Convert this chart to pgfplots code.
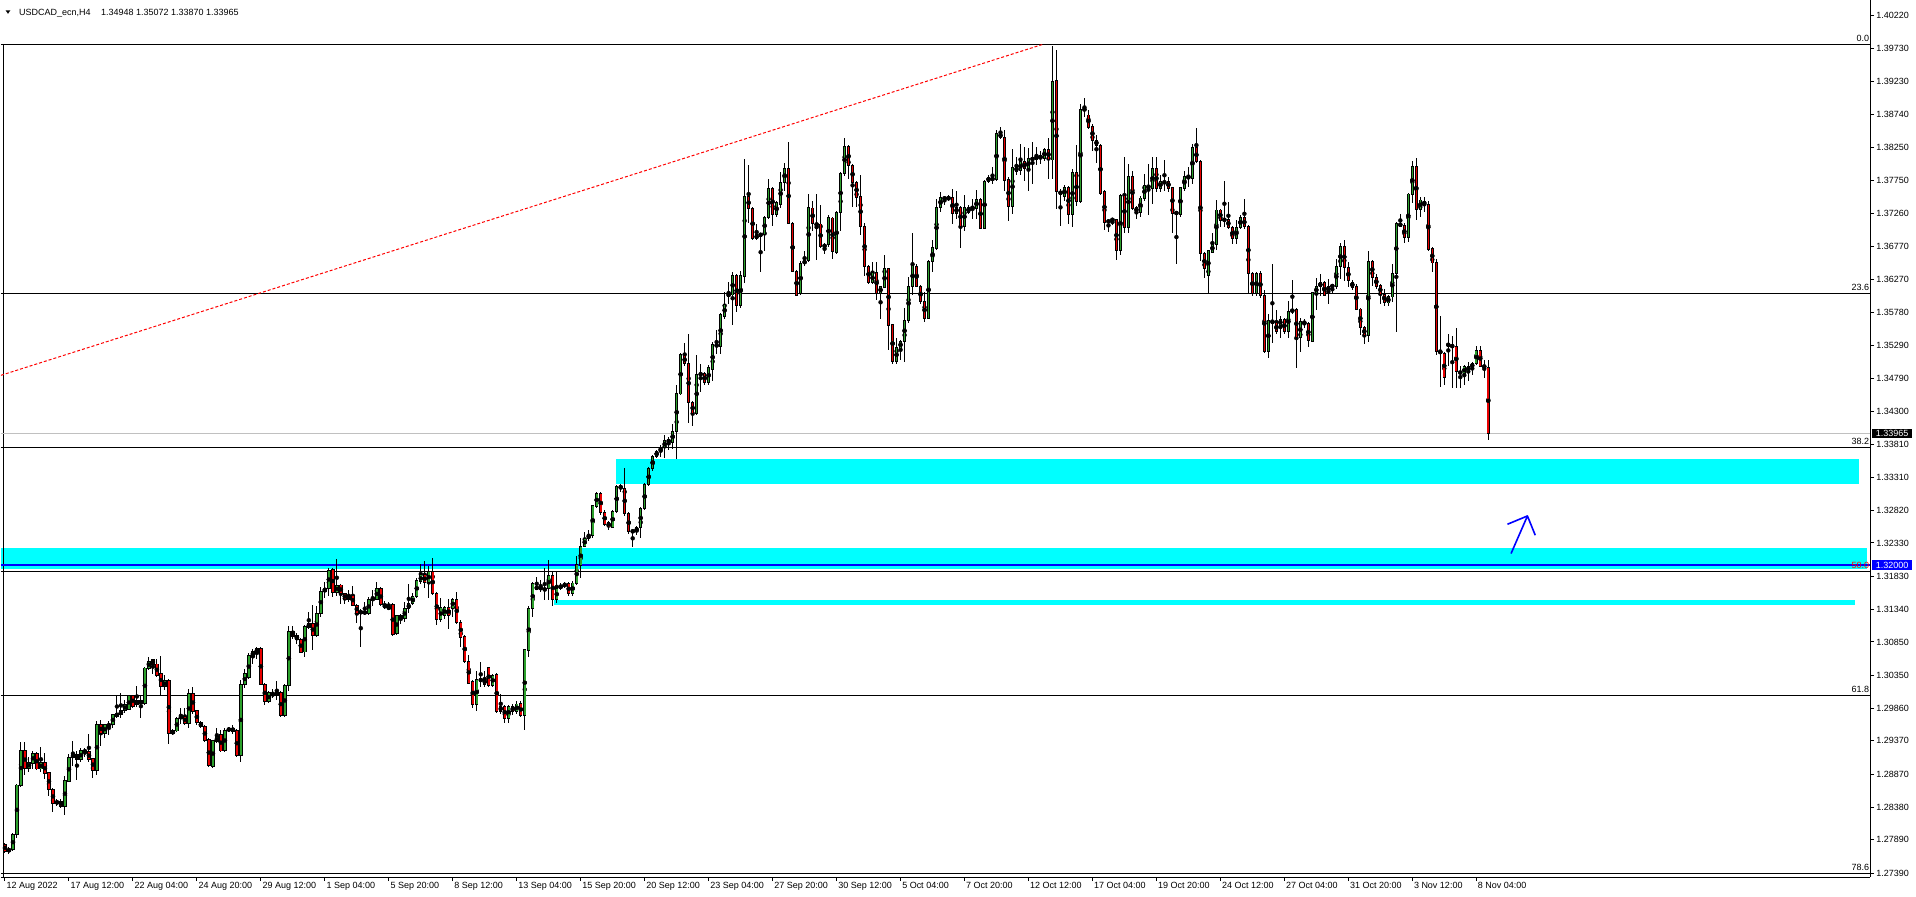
\documentclass[border=0pt]{standalone}
\usepackage{pgfplots}
\pgfplotsset{compat=1.18}
\usepackage{pgfplotstable}
\usepackage{fontspec}
\setmainfont{Liberation Sans}

\definecolor{bull}{HTML}{2CA02C}
\definecolor{bear}{HTML}{E80000}
\definecolor{zone}{HTML}{00FFFF}
\definecolor{mtblue}{HTML}{0000FF}
\definecolor{bidline}{HTML}{C0C0C0}
\definecolor{trend}{HTML}{FF0000}
\newcommand{\mt}{\fontsize{9bp}{10bp}\selectfont}

% USDCAD_ecn H4, bar 0 = 12 Aug 2022 20:00
\pgfplotstableread{
i o h l c
0 1.2782 1.2784 1.2769 1.2772
1 1.2772 1.2779 1.2768 1.2775
2 1.2774 1.2799 1.2772 1.2797
3 1.2797 1.2873 1.2792 1.2871
4 1.2871 1.2935 1.2868 1.2922
5 1.2922 1.2935 1.2886 1.2896
6 1.2896 1.2913 1.2890 1.2905
7 1.2904 1.2922 1.2895 1.2918
8 1.2918 1.2921 1.2893 1.2895
9 1.2895 1.2928 1.2891 1.2904
10 1.2904 1.2919 1.2880 1.2888
11 1.2889 1.2891 1.2854 1.2864
12 1.2864 1.2866 1.2831 1.2844
13 1.2843 1.2850 1.2840 1.2847
14 1.2847 1.2850 1.2836 1.2839
15 1.2839 1.2885 1.2826 1.2877
16 1.2877 1.2918 1.2875 1.2912
17 1.2912 1.2937 1.2899 1.2917
18 1.2917 1.2922 1.2878 1.2909
19 1.2909 1.2926 1.2906 1.2922
20 1.2923 1.2926 1.2913 1.2920
21 1.2921 1.2947 1.2906 1.2909
22 1.2910 1.2912 1.2881 1.2893
23 1.2893 1.2967 1.2886 1.2962
24 1.2962 1.2968 1.2929 1.2948
25 1.2948 1.2963 1.2942 1.2961
26 1.2959 1.2967 1.2946 1.2962
27 1.2961 1.2978 1.2957 1.2976
28 1.2974 1.3006 1.2971 1.2978
29 1.2977 1.3009 1.2971 1.2982
30 1.2982 1.2998 1.2978 1.2992
31 1.2984 1.3006 1.2983 1.3005
32 1.3005 1.3006 1.2986 1.2989
33 1.2991 1.3019 1.2988 1.2997
34 1.2997 1.3006 1.2972 1.2993
35 1.2993 1.3048 1.2991 1.3046
36 1.3046 1.3062 1.3043 1.3056
37 1.3058 1.3059 1.3037 1.3052
38 1.3052 1.3059 1.3033 1.3035
39 1.3037 1.3064 1.3006 1.3019
40 1.3018 1.3036 1.3013 1.3027
41 1.3027 1.3029 1.2933 1.2948
42 1.2948 1.2954 1.2946 1.2952
43 1.2952 1.2973 1.2950 1.2971
44 1.2971 1.2986 1.2963 1.2974
45 1.2974 1.2986 1.2961 1.2963
46 1.2963 1.3014 1.2957 1.3008
47 1.3008 1.3018 1.2978 1.2981
48 1.2982 1.2984 1.2961 1.2964
49 1.2964 1.2966 1.2956 1.2958
50 1.2958 1.2960 1.2936 1.2938
51 1.2939 1.2941 1.2898 1.2900
52 1.2899 1.2939 1.2896 1.2937
53 1.2936 1.2957 1.2934 1.2943
54 1.2947 1.2953 1.2920 1.2922
55 1.2922 1.2956 1.2920 1.2953
56 1.2952 1.2958 1.2950 1.2956
57 1.2956 1.2960 1.2948 1.2951
58 1.2952 1.2954 1.2913 1.2915
59 1.2915 1.3028 1.2905 1.3022
60 1.3022 1.3044 1.3016 1.3037
61 1.3032 1.3069 1.3030 1.3064
62 1.3063 1.3075 1.3052 1.3071
63 1.3070 1.3078 1.3059 1.3075
64 1.3075 1.3077 1.3020 1.3022
65 1.3022 1.3024 1.2991 1.2996
66 1.2996 1.3011 1.2993 1.3009
67 1.3008 1.3014 1.3001 1.3005
68 1.3007 1.3026 1.2998 1.3009
69 1.3009 1.3011 1.2972 1.2975
70 1.2975 1.3022 1.2972 1.3020
71 1.3020 1.3109 1.3011 1.3101
72 1.3101 1.3109 1.3089 1.3093
73 1.3094 1.3099 1.3082 1.3089
74 1.3089 1.3091 1.3068 1.3070
75 1.3070 1.3110 1.3063 1.3108
76 1.3107 1.3130 1.3105 1.3113
77 1.3113 1.3140 1.3073 1.3094
78 1.3094 1.3139 1.3092 1.3128
79 1.3128 1.3167 1.3123 1.3161
80 1.3161 1.3174 1.3150 1.3165
81 1.3165 1.3195 1.3153 1.3192
82 1.3193 1.3195 1.3152 1.3159
83 1.3159 1.3209 1.3153 1.3170
84 1.3170 1.3172 1.3142 1.3157
85 1.3157 1.3158 1.3142 1.3149
86 1.3149 1.3163 1.3145 1.3155
87 1.3155 1.3169 1.3139 1.3140
88 1.3140 1.3142 1.3113 1.3128
89 1.3128 1.3134 1.3077 1.3131
90 1.3131 1.3145 1.3125 1.3127
91 1.3127 1.3152 1.3125 1.3149
92 1.3148 1.3162 1.3139 1.3150
93 1.3149 1.3175 1.3148 1.3165
94 1.3165 1.3167 1.3139 1.3141
95 1.3141 1.3146 1.3134 1.3136
96 1.3137 1.3145 1.3134 1.3135
97 1.3141 1.3143 1.3094 1.3096
98 1.3098 1.3126 1.3096 1.3124
99 1.3120 1.3127 1.3112 1.3124
100 1.3120 1.3145 1.3115 1.3135
101 1.3135 1.3171 1.3128 1.3142
102 1.3142 1.3158 1.3140 1.3153
103 1.3153 1.3180 1.3150 1.3177
104 1.3175 1.3201 1.3172 1.3185
105 1.3185 1.3206 1.3165 1.3174
106 1.3174 1.3198 1.3150 1.3190
107 1.3191 1.3210 1.3155 1.3158
108 1.3158 1.3160 1.3110 1.3118
109 1.3119 1.3150 1.3115 1.3136
110 1.3125 1.3139 1.3119 1.3136
111 1.3136 1.3150 1.3105 1.3125
112 1.3135 1.3151 1.3123 1.3149
113 1.3149 1.3160 1.3112 1.3114
114 1.3114 1.3118 1.3077 1.3092
115 1.3093 1.3095 1.3053 1.3056
116 1.3056 1.3065 1.3022 1.3023
117 1.3026 1.3028 1.2986 1.2992
118 1.2992 1.3041 1.2982 1.3028
119 1.3027 1.3055 1.3018 1.3029
120 1.3029 1.3041 1.3018 1.3022
121 1.3046 1.3048 1.3018 1.3020
122 1.3020 1.3037 1.3018 1.3035
123 1.3036 1.3038 1.2978 1.2981
124 1.2989 1.3007 1.2978 1.2981
125 1.2989 1.2990 1.2964 1.2971
126 1.2971 1.2991 1.2964 1.2989
127 1.2989 1.2992 1.2976 1.2981
128 1.2981 1.2996 1.2978 1.2992
129 1.2993 1.2996 1.2973 1.2975
130 1.2975 1.3075 1.2953 1.3073
131 1.3072 1.3139 1.3062 1.3135
132 1.3135 1.3175 1.3123 1.3172
133 1.3164 1.3182 1.3162 1.3168
134 1.3164 1.3177 1.3160 1.3167
135 1.3165 1.3195 1.3148 1.3162
136 1.3165 1.3207 1.3148 1.3184
137 1.3184 1.3191 1.3139 1.3148
138 1.3148 1.3191 1.3144 1.3165
139 1.3165 1.3173 1.3163 1.3170
140 1.3168 1.3175 1.3166 1.3172
141 1.3172 1.3175 1.3154 1.3157
142 1.3157 1.3176 1.3154 1.3173
143 1.3173 1.3213 1.3170 1.3200
144 1.3200 1.3240 1.3181 1.3228
145 1.3228 1.3250 1.3227 1.3240
146 1.3240 1.3252 1.3236 1.3245
147 1.3245 1.3290 1.3240 1.3289
148 1.3288 1.3309 1.3285 1.3307
149 1.3307 1.3309 1.3275 1.3279
150 1.3279 1.3282 1.3258 1.3261
151 1.3264 1.3266 1.3252 1.3257
152 1.3257 1.3282 1.3255 1.3280
153 1.3280 1.3320 1.3278 1.3318
154 1.3315 1.3322 1.3310 1.3318
155 1.3315 1.3345 1.3274 1.3277
156 1.3277 1.3279 1.3247 1.3250
157 1.3250 1.3253 1.3227 1.3251
158 1.3250 1.3258 1.3245 1.3256
159 1.3256 1.3287 1.3241 1.3285
160 1.3285 1.3322 1.3283 1.3320
161 1.3320 1.3346 1.3318 1.3344
162 1.3344 1.3365 1.3340 1.3363
163 1.3363 1.3372 1.3360 1.3370
164 1.3370 1.3380 1.3362 1.3376
165 1.3376 1.3395 1.3360 1.3386
166 1.3384 1.3392 1.3372 1.3387
167 1.3384 1.3411 1.3373 1.3400
168 1.3400 1.3469 1.3359 1.3457
169 1.3456 1.3517 1.3454 1.3515
170 1.3513 1.3532 1.3498 1.3501
171 1.3501 1.3545 1.3413 1.3443
172 1.3443 1.3445 1.3408 1.3427
173 1.3427 1.3514 1.3425 1.3485
174 1.3484 1.3500 1.3459 1.3487
175 1.3487 1.3489 1.3469 1.3473
176 1.3473 1.3499 1.3469 1.3495
177 1.3492 1.3533 1.3476 1.3530
178 1.3530 1.3552 1.3515 1.3527
179 1.3527 1.3577 1.3515 1.3575
180 1.3572 1.3608 1.3568 1.3590
181 1.3603 1.3624 1.3590 1.3605
182 1.3604 1.3639 1.3559 1.3633
183 1.3633 1.3635 1.3579 1.3588
184 1.3588 1.3640 1.3584 1.3633
185 1.3632 1.3808 1.3622 1.3751
186 1.3751 1.3798 1.3712 1.3733
187 1.3733 1.3735 1.3686 1.3688
188 1.3688 1.3710 1.3686 1.3694
189 1.3692 1.3697 1.3639 1.3696
190 1.3695 1.3722 1.3670 1.3720
191 1.3720 1.3777 1.3718 1.3763
192 1.3763 1.3765 1.3707 1.3724
193 1.3724 1.3745 1.3720 1.3742
194 1.3739 1.3788 1.3734 1.3772
195 1.3772 1.3802 1.3760 1.3793
196 1.3793 1.3833 1.3710 1.3711
197 1.3711 1.3713 1.3638 1.3639
198 1.3639 1.3641 1.3603 1.3604
199 1.3607 1.3655 1.3604 1.3651
200 1.3651 1.3670 1.3648 1.3655
201 1.3655 1.3755 1.3654 1.3734
202 1.3734 1.3745 1.3700 1.3711
203 1.3711 1.3755 1.3656 1.3708
204 1.3710 1.3738 1.3675 1.3676
205 1.3676 1.3681 1.3665 1.3679
206 1.3679 1.3724 1.3675 1.3720
207 1.3719 1.3721 1.3658 1.3669
208 1.3667 1.3729 1.3665 1.3727
209 1.3727 1.3788 1.3700 1.3786
210 1.3786 1.3838 1.3782 1.3826
211 1.3826 1.3828 1.3777 1.3797
212 1.3797 1.3800 1.3736 1.3772
213 1.3772 1.3774 1.3735 1.3750
214 1.3751 1.3783 1.3694 1.3706
215 1.3706 1.3712 1.3632 1.3647
216 1.3647 1.3649 1.3621 1.3623
217 1.3622 1.3654 1.3621 1.3637
218 1.3637 1.3654 1.3596 1.3607
219 1.3607 1.3618 1.3568 1.3616
220 1.3615 1.3664 1.3614 1.3643
221 1.3643 1.3645 1.3521 1.3559
222 1.3559 1.3561 1.3501 1.3504
223 1.3504 1.3539 1.3501 1.3525
224 1.3524 1.3537 1.3507 1.3535
225 1.3535 1.3584 1.3504 1.3566
226 1.3566 1.3631 1.3562 1.3617
227 1.3617 1.3696 1.3604 1.3648
228 1.3646 1.3651 1.3616 1.3617
229 1.3617 1.3619 1.3590 1.3594
230 1.3594 1.3608 1.3563 1.3569
231 1.3569 1.3656 1.3568 1.3654
232 1.3654 1.3686 1.3639 1.3675
233 1.3674 1.3747 1.3672 1.3735
234 1.3735 1.3758 1.3728 1.3750
235 1.3748 1.3752 1.3739 1.3749
236 1.3747 1.3753 1.3745 1.3750
237 1.3750 1.3763 1.3710 1.3726
238 1.3726 1.3760 1.3718 1.3735
239 1.3735 1.3737 1.3675 1.3707
240 1.3707 1.3754 1.3699 1.3735
241 1.3727 1.3738 1.3725 1.3735
242 1.3734 1.3747 1.3718 1.3735
243 1.3734 1.3761 1.3718 1.3747
244 1.3747 1.3749 1.3702 1.3704
245 1.3704 1.3776 1.3702 1.3774
246 1.3774 1.3783 1.3771 1.3780
247 1.3777 1.3795 1.3770 1.3778
248 1.3777 1.3851 1.3774 1.3846
249 1.3846 1.3856 1.3838 1.3839
250 1.3839 1.3851 1.3759 1.3776
251 1.3776 1.3780 1.3715 1.3737
252 1.3737 1.3823 1.3725 1.3795
253 1.3789 1.3811 1.3783 1.3795
254 1.3790 1.3830 1.3783 1.3803
255 1.3803 1.3825 1.3775 1.3793
256 1.3793 1.3824 1.3759 1.3808
257 1.3808 1.3833 1.3770 1.3807
258 1.3806 1.3826 1.3798 1.3813
259 1.3813 1.3819 1.3800 1.3808
260 1.3808 1.3824 1.3805 1.3822
261 1.3822 1.3838 1.3778 1.3806
262 1.3806 1.3977 1.3778 1.3923
263 1.3925 1.3971 1.3733 1.3759
264 1.3759 1.3763 1.3707 1.3755
265 1.3752 1.3769 1.3745 1.3765
266 1.3765 1.3767 1.3710 1.3725
267 1.3725 1.3793 1.3705 1.3787
268 1.3787 1.3828 1.3737 1.3744
269 1.3744 1.3890 1.3742 1.3882
270 1.3882 1.3899 1.3870 1.3881
271 1.3873 1.3880 1.3853 1.3855
272 1.3856 1.3860 1.3820 1.3835
273 1.3835 1.3843 1.3801 1.3828
274 1.3828 1.3830 1.3754 1.3756
275 1.3759 1.3761 1.3701 1.3712
276 1.3716 1.3718 1.3698 1.3712
277 1.3716 1.3718 1.3708 1.3717
278 1.3717 1.3718 1.3657 1.3670
279 1.3670 1.3755 1.3663 1.3753
280 1.3753 1.3811 1.3696 1.3705
281 1.3705 1.3800 1.3696 1.3781
282 1.3781 1.3790 1.3731 1.3733
283 1.3735 1.3737 1.3718 1.3728
284 1.3728 1.3752 1.3721 1.3749
285 1.3749 1.3785 1.3744 1.3768
286 1.3768 1.3800 1.3723 1.3764
287 1.3764 1.3810 1.3740 1.3793
288 1.3793 1.3810 1.3758 1.3764
289 1.3763 1.3783 1.3758 1.3774
290 1.3774 1.3806 1.3760 1.3771
291 1.3774 1.3780 1.3758 1.3764
292 1.3764 1.3766 1.3696 1.3726
293 1.3728 1.3730 1.3651 1.3725
294 1.3725 1.3766 1.3721 1.3764
295 1.3764 1.3790 1.3759 1.3781
296 1.3779 1.3796 1.3766 1.3781
297 1.3779 1.3830 1.3770 1.3824
298 1.3824 1.3854 1.3802 1.3803
299 1.3803 1.3806 1.3655 1.3666
300 1.3666 1.3668 1.3630 1.3643
301 1.3633 1.3672 1.3606 1.3670
302 1.3668 1.3697 1.3666 1.3680
303 1.3680 1.3746 1.3671 1.3731
304 1.3731 1.3733 1.3706 1.3716
305 1.3716 1.3775 1.3706 1.3717
306 1.3717 1.3743 1.3702 1.3705
307 1.3705 1.3707 1.3680 1.3688
308 1.3688 1.3716 1.3681 1.3705
309 1.3705 1.3723 1.3702 1.3720
310 1.3720 1.3748 1.3703 1.3706
311 1.3706 1.3708 1.3605 1.3636
312 1.3636 1.3638 1.3603 1.3606
313 1.3606 1.3638 1.3603 1.3636
314 1.3636 1.3640 1.3600 1.3603
315 1.3603 1.3612 1.3517 1.3520
316 1.3520 1.3576 1.3509 1.3566
317 1.3566 1.3651 1.3532 1.3562
318 1.3562 1.3581 1.3546 1.3549
319 1.3559 1.3573 1.3539 1.3567
320 1.3567 1.3570 1.3546 1.3549
321 1.3549 1.3595 1.3539 1.3579
322 1.3579 1.3627 1.3576 1.3582
323 1.3582 1.3584 1.3495 1.3540
324 1.3540 1.3570 1.3519 1.3564
325 1.3561 1.3568 1.3555 1.3564
326 1.3561 1.3563 1.3526 1.3536
327 1.3535 1.3609 1.3534 1.3607
328 1.3606 1.3630 1.3582 1.3617
329 1.3617 1.3636 1.3603 1.3622
330 1.3622 1.3625 1.3602 1.3603
331 1.3610 1.3628 1.3590 1.3617
332 1.3617 1.3619 1.3606 1.3618
333 1.3617 1.3658 1.3613 1.3646
334 1.3646 1.3681 1.3628 1.3677
335 1.3677 1.3686 1.3625 1.3645
336 1.3645 1.3653 1.3616 1.3625
337 1.3623 1.3627 1.3611 1.3616
338 1.3616 1.3621 1.3581 1.3583
339 1.3583 1.3585 1.3544 1.3555
340 1.3555 1.3557 1.3530 1.3544
341 1.3544 1.3670 1.3534 1.3654
342 1.3654 1.3656 1.3617 1.3630
343 1.3630 1.3636 1.3613 1.3617
344 1.3618 1.3620 1.3591 1.3605
345 1.3605 1.3613 1.3587 1.3593
346 1.3592 1.3604 1.3588 1.3602
347 1.3601 1.3651 1.3593 1.3636
348 1.3636 1.3713 1.3549 1.3711
349 1.3711 1.3725 1.3706 1.3707
350 1.3708 1.3711 1.3682 1.3690
351 1.3690 1.3757 1.3683 1.3755
352 1.3755 1.3805 1.3741 1.3796
353 1.3796 1.3809 1.3716 1.3732
354 1.3732 1.3750 1.3721 1.3746
355 1.3744 1.3751 1.3728 1.3739
356 1.3739 1.3745 1.3670 1.3672
357 1.3673 1.3676 1.3638 1.3652
358 1.3653 1.3658 1.3514 1.3520
359 1.3521 1.3572 1.3467 1.3516
360 1.3516 1.3518 1.3470 1.3480
361 1.3532 1.3545 1.3497 1.3527
362 1.3529 1.3542 1.3465 1.3526
363 1.3527 1.3554 1.3465 1.3489
364 1.3490 1.3497 1.3465 1.3486
365 1.3486 1.3499 1.3469 1.3497
366 1.3490 1.3504 1.3475 1.3497
367 1.3495 1.3504 1.3484 1.3502
368 1.3501 1.3527 1.3499 1.3521
369 1.3521 1.3527 1.3496 1.3497
370 1.3499 1.3507 1.3480 1.3495
371 1.34948 1.35072 1.33870 1.33965
}\candles

\begin{document}
\begin{tikzpicture}[x=1bp,y=1bp]
\begin{axis}[
  scale only axis, width=1870bp, height=877bp,
  xmin=-1, xmax=466.5, ymin=1.27333, ymax=1.40444,
  axis x line*=bottom, axis y line*=right,
  axis line style={black, line width=1bp},
  tick align=outside, major tick length=4bp,
  tick style={black, line width=1bp},
  clip mode=individual,
  xtick={0,16,...,368},
  xticklabels={12 Aug 2022,17 Aug 12:00,22 Aug 04:00,24 Aug 20:00,29 Aug 12:00,1 Sep 04:00,5 Sep 20:00,8 Sep 12:00,13 Sep 04:00,15 Sep 20:00,20 Sep 12:00,23 Sep 04:00,27 Sep 20:00,30 Sep 12:00,5 Oct 04:00,7 Oct 20:00,12 Oct 12:00,17 Oct 04:00,19 Oct 20:00,24 Oct 12:00,27 Oct 04:00,31 Oct 20:00,3 Nov 12:00,8 Nov 04:00},
  xticklabel style={font=\mt, anchor=north west, inner sep=0pt, xshift=1.5bp, yshift=-1bp},
  ytick={1.40220,1.39730,1.39230,1.38740,1.38250,1.37750,1.37260,1.36770,1.36270,1.35780,1.35290,1.34790,1.34300,1.33810,1.33310,1.32820,1.32330,1.31830,1.31340,1.30850,1.30350,1.29860,1.29370,1.28870,1.28380,1.27890,1.27390},
  yticklabels={1.40220,1.39730,1.39230,1.38740,1.38250,1.37750,1.37260,1.36770,1.36270,1.35780,1.35290,1.34790,1.34300,1.33810,1.33310,1.32820,1.32330,1.31830,1.31340,1.30850,1.30350,1.29860,1.29370,1.28870,1.28380,1.27890,1.27390},
  yticklabel style={font=\mt, anchor=west, inner sep=0pt, xshift=2bp},
]
\coordinate (bl) at (rel axis cs:0,0);
% zones
\fill[zone] (axis cs:-1,1.32252) rectangle (axis cs:465.75,1.31937);
\fill[zone] (axis cs:152.75,1.33582) rectangle (axis cs:463.75,1.33208);
\fill[zone] (axis cs:137.25,1.31474) rectangle (axis cs:462.75,1.31399);
% fibo levels
\draw[black, line width=1bp] (axis cs:-1,1.39786) -- (axis cs:466.5,1.39786);
\draw[black, line width=1bp] (axis cs:-1,1.36064) -- (axis cs:466.5,1.36064);
\draw[black, line width=1bp] (axis cs:-1,1.33762) -- (axis cs:466.5,1.33762);
\draw[black, line width=1bp] (axis cs:-1,1.31908) -- (axis cs:466.5,1.31908);
\draw[black, line width=1bp] (axis cs:-1,1.30054) -- (axis cs:466.5,1.30054);
\draw[black, line width=1bp] (axis cs:-1,1.27393) -- (axis cs:466.5,1.27393);
\draw[black, line width=1bp] (axis cs:-0.375,1.39786) -- (axis cs:-0.375,1.27333);
% bid line and 1.32 level
\draw[bidline, line width=1bp] (axis cs:-1,1.33965) -- (axis cs:466.5,1.33965);
\draw[mtblue, line width=2bp] (axis cs:-1,1.32) -- (axis cs:466.5,1.32);
% trend line
\addplot[trend, line width=1bp, dash pattern=on 3bp off 2bp, forget plot] coordinates {(-1,1.34838) (259.5,1.39786)};

% wicks
\addplot[only marks, mark=none, forget plot,
  error bars/.cd, y dir=both, y explicit, error mark=none,
  error bar style={draw=black, line width=1bp, solid}]
  table[x=i, y expr={(\thisrow{h}+\thisrow{l})/2}, y error expr={(\thisrow{h}-\thisrow{l})/2}] {\candles};
% body outlines
\addplot[only marks, mark=none, forget plot,
  error bars/.cd, y dir=both, y explicit, error mark=none,
  error bar style={draw=black, line width=3.4bp, solid}]
  table[x=i, y expr={(\thisrow{o}+\thisrow{c})/2}, y error expr={abs(\thisrow{c}-\thisrow{o})/2+0.00008}] {\candles};
% bull fill
\addplot[only marks, mark=none, forget plot,
  restrict expr to domain={\thisrow{c}-\thisrow{o}}{0.00001:1},
  error bars/.cd, y dir=both, y explicit, error mark=none,
  error bar style={draw=bull, line width=1.6bp, solid}]
  table[x=i, y expr={(\thisrow{o}+\thisrow{c})/2}, y error expr={max(abs(\thisrow{c}-\thisrow{o})/2-0.00006,0)}] {\candles};
% bear fill
\addplot[only marks, mark=none, forget plot,
  restrict expr to domain={\thisrow{c}-\thisrow{o}}{-1:-0.00001},
  error bars/.cd, y dir=both, y explicit, error mark=none,
  error bar style={draw=bear, line width=1.6bp, solid}]
  table[x=i, y expr={(\thisrow{o}+\thisrow{c})/2}, y error expr={max(abs(\thisrow{c}-\thisrow{o})/2-0.00006,0)}] {\candles};

% hand-drawn arrow
\draw[mtblue, line width=1.6bp, line join=round] (axis cs:376.7,1.32172) -- (axis cs:380.8,1.32734) -- (axis cs:382.75,1.32446);
\draw[mtblue, line width=1.6bp] (axis cs:375.8,1.32610) -- (axis cs:380.8,1.32734);

% fibo labels
\node[font=\mt, anchor=base east, inner sep=0pt, yshift=2.5bp] at (axis cs:466.3,1.39786) {0.0};
\node[font=\mt, anchor=base east, inner sep=0pt, yshift=2.5bp] at (axis cs:466.3,1.36064) {23.6};
\node[font=\mt, anchor=base east, inner sep=0pt, yshift=2.5bp] at (axis cs:466.3,1.33762) {38.2};
\node[font=\mt, anchor=base east, inner sep=0pt, yshift=2.5bp, text=red] at (axis cs:466.3,1.31908) {50.0};
\node[font=\mt, anchor=base east, inner sep=0pt, yshift=2.5bp] at (axis cs:466.3,1.30054) {61.8};
\node[font=\mt, anchor=base east, inner sep=0pt, yshift=2.5bp] at (axis cs:466.3,1.27393) {78.6};

% price boxes on the scale
\node[font=\mt, anchor=west, fill=black, text=white, inner xsep=4bp, inner ysep=1.5bp, xshift=1.7bp] at (axis cs:466.5,1.33965) {1.33965};
\node[font=\mt, anchor=west, fill=mtblue, text=white, inner xsep=4bp, inner ysep=1.5bp, xshift=1.7bp] at (axis cs:466.5,1.32000) {1.32000};

% chart title
\fill (axis cs:0.175,1.40295) -- (axis cs:1.325,1.40295) -- (axis cs:0.75,1.40245) -- cycle;
\node[font=\mt, anchor=base west, inner sep=0pt] at (axis cs:3.5,1.40220) {USDCAD\_ecn,H4};
\node[font=\mt, anchor=base west, inner sep=0pt] at (axis cs:24,1.40220) {1.34948 1.35072 1.33870 1.33965};
\end{axis}
\path (bl) ++(0,-19) rectangle ++(1916,896);
\end{tikzpicture}
\end{document}
